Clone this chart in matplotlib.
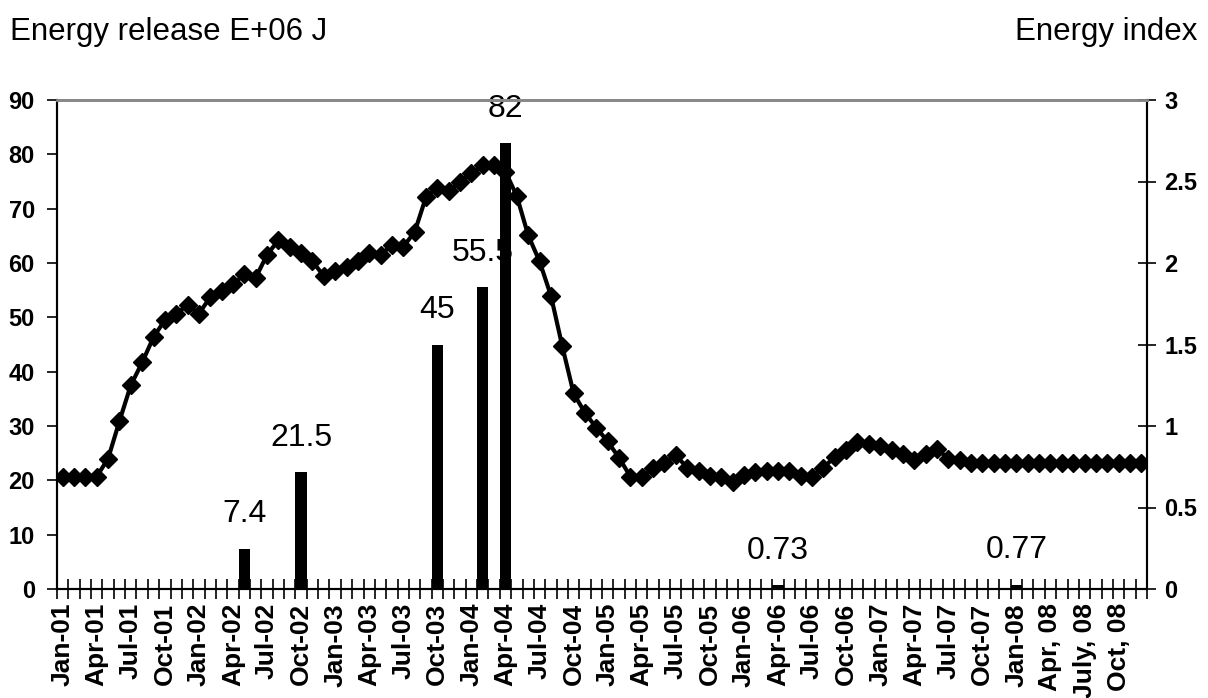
import matplotlib
matplotlib.use("Agg")
import matplotlib.pyplot as plt
import numpy as np

plt.rcParams['font.family'] = ['Liberation Sans', 'DejaVu Sans']

# ---- data ----
month_names = ['Jan', 'Feb', 'Mar', 'Apr', 'May', 'Jun', 'Jul', 'Aug', 'Sep', 'Oct', 'Nov', 'Dec']
years = ['01', '02', '03', '04', '05', '06', '07', '08']
months = [f"{m}-{y}" for y in years for m in month_names]

tick_labels = ['Jan-01', 'Apr-01', 'Jul-01', 'Oct-01', 'Jan-02', 'Apr-02', 'Jul-02', 'Oct-02',
               'Jan-03', 'Apr-03', 'Jul-03', 'Oct-03', 'Jan-04', 'Apr-04', 'Jul-04', 'Oct-04',
               'Jan-05', 'Apr-05', 'Jul-05', 'Oct-05', 'Jan-06', 'Apr-06', 'Jul-06', 'Oct-06',
               'Jan-07', 'Apr-07', 'Jul-07', 'Oct-07', 'Jan-08', 'Apr, 08', 'July, 08', 'Oct, 08']

energy_index = [0.69, 0.69, 0.69, 0.69, 0.80, 1.03, 1.25, 1.39, 1.545, 1.65, 1.69, 1.74,
                1.69, 1.79, 1.83, 1.87, 1.93, 1.91, 2.05, 2.14, 2.10, 2.06, 2.01, 1.92,
                1.95, 1.975, 2.01, 2.06, 2.05, 2.11, 2.10, 2.19, 2.405, 2.46, 2.44, 2.50,
                2.55, 2.60, 2.60, 2.56, 2.41, 2.17, 2.01, 1.80, 1.49, 1.20, 1.08, 0.99,
                0.905, 0.805, 0.69, 0.69, 0.745, 0.775, 0.82, 0.745, 0.725, 0.695, 0.685, 0.655,
                0.70, 0.715, 0.725, 0.725, 0.725, 0.695, 0.69, 0.745, 0.81, 0.85, 0.90, 0.89,
                0.88, 0.85, 0.83, 0.79, 0.83, 0.86, 0.80, 0.79, 0.77, 0.77, 0.77, 0.77,
                0.77, 0.77, 0.77, 0.77, 0.77, 0.77, 0.77, 0.77, 0.77, 0.77, 0.77, 0.77]

release_months = ['May-02', 'Oct-02', 'Oct-03', 'Feb-04', 'Apr-04', 'Apr-06', 'Jan-08']
release_values = [7.4, 21.5, 45, 55.5, 82, 0.73, 0.77]
release_labels = ['7.4', '21.5', '45', '55.5', '82', '0.73', '0.77']

# ---- figure ----
fig = plt.figure(figsize=(12.08, 6.98), dpi=100)
ax = fig.add_axes([57/1208, 1-589/698, (1147-57)/1208, (589-100)/698])
ax2 = ax.twinx()

x = np.arange(len(months))
bar_x = [months.index(m) for m in release_months]

ax.bar(bar_x, release_values, width=1.0, color='black', zorder=2)
for bx, bv, bl in zip(bar_x, release_values, release_labels):
    ax.annotate(bl, (bx, bv), xytext=(0, 14), textcoords='offset points',
                ha='center', va='bottom', fontsize=23, zorder=1)

ax2.plot(x, energy_index, color='black', lw=3.0, marker='D', markersize=9,
         markeredgecolor='black', markerfacecolor='black', zorder=3)

ax.set_xlim(-0.5, len(months) - 0.5)
ax.set_ylim(0, 90)
ax2.set_ylim(0, 3)

ax.set_yticks(np.arange(0, 91, 10))
ax.set_yticklabels([str(v) for v in range(0, 91, 10)], fontsize=17, fontweight='bold')
ax2.set_yticks([0, 0.5, 1, 1.5, 2, 2.5, 3])
ax2.set_yticklabels(['0', '0.5', '1', '1.5', '2', '2.5', '3'], fontsize=17, fontweight='bold')

tick_pos = [months.index(t) if t in months else i * 3 for i, t in enumerate(tick_labels)]
ax.set_xticks(tick_pos)
ax.set_xticklabels(tick_labels, rotation=90, fontsize=19, fontweight='bold')
ax.set_xticks(np.arange(-0.5, len(months), 1.0), minor=True)
ax.tick_params(axis='x', which='major', length=0, pad=10)
ax.tick_params(axis='x', which='minor', direction='inout', length=14, width=1.2, color='black')
ax.tick_params(axis='y', which='major', direction='out', length=7, width=1.2, pad=9)
ax2.tick_params(axis='y', which='major', direction='inout', length=13, width=1.2, pad=6)

for a in (ax, ax2):
    a.spines['top'].set_color('#888888')
    a.spines['top'].set_linewidth(2)
    a.spines['left'].set_linewidth(1.5)
    a.spines['right'].set_linewidth(1.5)
    a.spines['bottom'].set_linewidth(1.5)

fig.text(10/1208, 1-32/698, 'Energy release E+06 J', fontsize=22.5, ha='left', va='center')
fig.text(1197/1208, 1-32/698, 'Energy index', fontsize=22.5, ha='right', va='center')

fig.savefig('out.png', dpi=100, facecolor='white')
